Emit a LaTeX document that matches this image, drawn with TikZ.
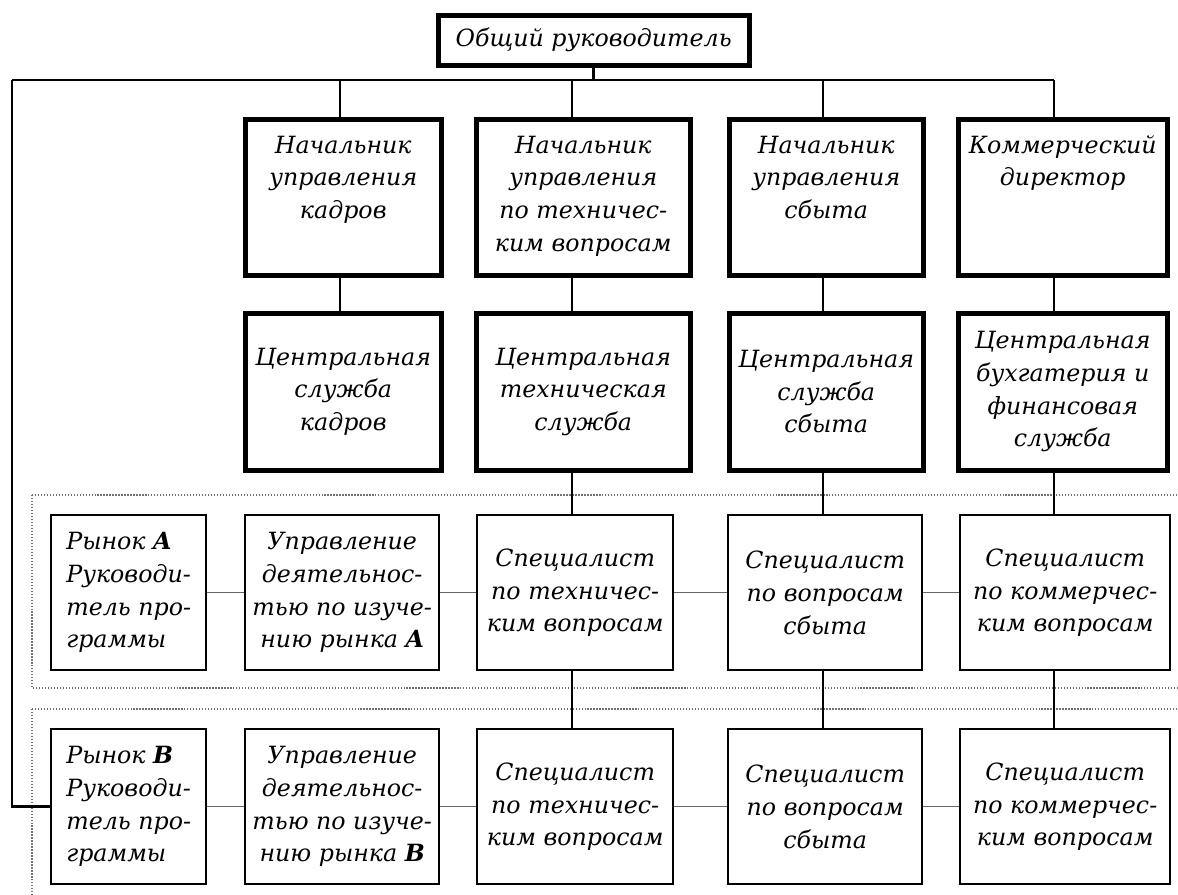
\documentclass[tikz,border=0pt]{standalone}
\usepackage{fontspec}
\setmainfont{DejaVu Serif}
\usetikzlibrary{positioning}
\newcommand{\toplines}[1]{\begin{tabular}[t]{@{}c@{}}#1\end{tabular}}
\tikzset{
  chartnode/.style={
    draw,
    align=center,
    anchor=north west,
    inner xsep=2pt,
    inner ysep=0pt
  },
  headbox/.style={
    chartnode,
    line width=2.6pt,
    minimum width=#1,
    text height=0.68cm,
    text depth=2.44cm
  },
  officebox/.style={
    chartnode,
    line width=2.6pt,
    minimum width=#1,
    minimum height=3.14cm
  },
  unitbox/.style={
    chartnode,
    line width=1.4pt,
    minimum width=#1,
    minimum height=3.1cm
  },
  wire/.style={line width=1.5pt},
  link/.style={line width=0.7pt, draw=black!60},
  marketframe/.style={densely dotted, line width=0.7pt, draw=black!55}
}

\begin{document}
\begin{tikzpicture}[x=0.02cm, y=-0.02cm,
    every node/.append style={font=\itshape\fontsize{13.5}{18.6}\selectfont}]
    \clip (0,0) rectangle (1178,894);

    % market frames, open to the right
    \draw[marketframe] (32,495) rectangle (1200,688);
    \draw[marketframe] (32,709) rectangle (1200,920);

    \node[chartnode, line width=2.6pt, minimum width=6.22cm, minimum height=1cm] (top) at (436,13) {Общий руководитель};

    % heads
    \node[headbox=3.92cm] (b1) at (243,117) {\toplines{Начальник\\управления\\кадров}};
    \node[headbox=4.28cm] (b2) at (474,117) {\toplines{Начальник\\управления\\по техничес-\\ким вопросам}};
    \node[headbox=3.88cm] (b3) at (727,117) {\toplines{Начальник\\управления\\сбыта}};
    \node[headbox=4.18cm] (b4) at (956,117) {\toplines{Коммерческий\\директор}};

    % central services
    \node[officebox=3.92cm] (c1) at (243,311) {Центральная\\служба\\кадров};
    \node[officebox=4.28cm] (c2) at (474,311) {Центральная\\техническая\\служба};
    \node[officebox=3.88cm] (c3) at (727,311) {Центральная\\служба\\сбыта};
    \node[officebox=4.18cm] (c4) at (956,311) {Центральная\\бухгатерия и\\финансовая\\служба};

    % market A
    \node[unitbox=3.10cm, align=left] (A1) at (50,514) {Рынок \textbf{A}\\Руководи-\\тель про-\\граммы};
    \node[unitbox=3.88cm] (A2) at (244,514) {Управление\\деятельнос-\\тью по изуче-\\нию рынка \textbf{A}};
    \node[unitbox=3.92cm] (A3) at (476,514) {Специалист\\по техничес-\\ким вопросам};
    \node[unitbox=3.88cm] (A4) at (727,514) {Специалист\\по вопросам\\сбыта};
    \node[unitbox=4.20cm] (A5) at (959,514) {Специалист\\по коммерчес-\\ким вопросам};

    % market B
    \node[unitbox=3.10cm, align=left] (B1) at (50,728) {Рынок \textbf{B}\\Руководи-\\тель про-\\граммы};
    \node[unitbox=3.88cm] (B2) at (244,728) {Управление\\деятельнос-\\тью по изуче-\\нию рынка \textbf{B}};
    \node[unitbox=3.92cm] (B3) at (476,728) {Специалист\\по техничес-\\ким вопросам};
    \node[unitbox=3.88cm] (B4) at (727,728) {Специалист\\по вопросам\\сбыта};
    \node[unitbox=4.20cm] (B5) at (959,728) {Специалист\\по коммерчес-\\ким вопросам};

    \coordinate (bus) at (591,80);
    \coordinate (busL) at (12,80);
    \coordinate (col1) at (340,80);
    \coordinate (col2) at (572,80);
    \coordinate (col3) at (823,80);
    \coordinate (col4) at (1054,80);

    \draw[wire] (top.south) -- (top.south |- bus);
    \draw[wire] (busL) -- (col4);
    \draw[wire] (busL) |- (B1.west);
    \foreach \c/\h/\o in {col1/b1/c1, col2/b2/c2, col3/b3/c3, col4/b4/c4} {
        \draw[wire] (\c) -- (\c |- \h.north);
        \draw[wire] (\c |- \h.south) -- (\c |- \o.north);
    }
    \foreach \c/\o/\a/\b in {col2/c2/A3/B3, col3/c3/A4/B4, col4/c4/A5/B5} {
        \draw[wire] (\c |- \o.south) -- (\c |- \a.north);
        \draw[wire] (\c |- \a.south) -- (\c |- \b.north);
    }
    \foreach \r in {A,B} {
        \foreach \i/\j in {1/2, 2/3, 3/4, 4/5}
            \draw[link] (\r\i) -- (\r\j);
    }
\end{tikzpicture}
\end{document}
